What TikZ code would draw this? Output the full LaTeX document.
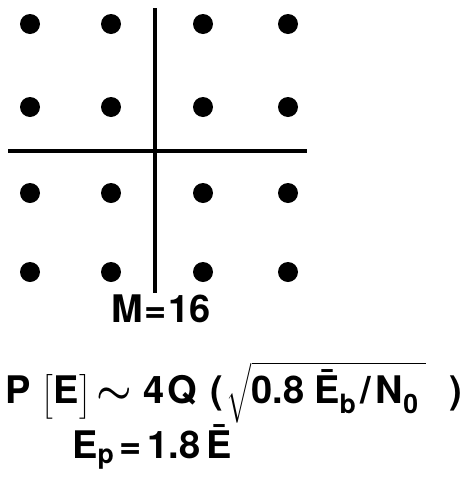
\documentclass[tikz,border=0pt]{standalone}
\usepackage{amsmath}
\usepackage{fontspec}
\setmainfont{TeX Gyre Heros}
\usetikzlibrary{positioning}

\begin{document}
\begin{tikzpicture}[x=1pt, y=-1pt, every node/.style={font=\fontsize{38}{42}\selectfont\bfseries\boldmath, inner sep=0pt}]
        \tikzstyle{point} = [circle, fill=black, minimum size=20pt, inner sep=0pt]
        \tikzstyle{axis} = [line width=3.5pt]
        \useasboundingbox (0,0) rectangle (464,491);

        \foreach \i/\x in {1/30, 2/111, 3/203, 4/288}
          \foreach \j/\y in {1/24, 2/107, 3/193, 4/272}
            \node[point] (p\i\j) at (\x,\y) {};

        \coordinate (vtop) at (155,8);
        \coordinate (vbot) at (155,293);
        \coordinate (hleft) at (8,151);
        \coordinate (hright) at (307,151);
        \draw[axis] (vtop) -- (vbot);
        \draw[axis] (hleft) -- (hright);

        \node (order) at (161,309) {M\hspace{0.05em}=\hspace{0.05em}16};
        \node[anchor=base west] (perr) at (5,403) {P\hspace{0.3em}$\Big[$E$\Big]$\hspace{0.15em}\scalebox{1.6}{$\sim$}\hspace{0.3em}4\hspace{0.08em}Q\hspace{0.35em}(\hspace{0.1em}$\sqrt{\vphantom{\Big|}\text{0.8\hspace{0.25em}Ē\textsubscript{b}\hspace{0.12em}/\hspace{0.12em}N\textsubscript{0}\hspace{0.2em}}}$\hspace{0.6em})};
        \node[anchor=base west] (peak) at (72,458) {E\textsubscript{p}\hspace{0.15em}=\hspace{0.15em}1.8\hspace{0.15em}Ē};
    \end{tikzpicture}
\end{document}
